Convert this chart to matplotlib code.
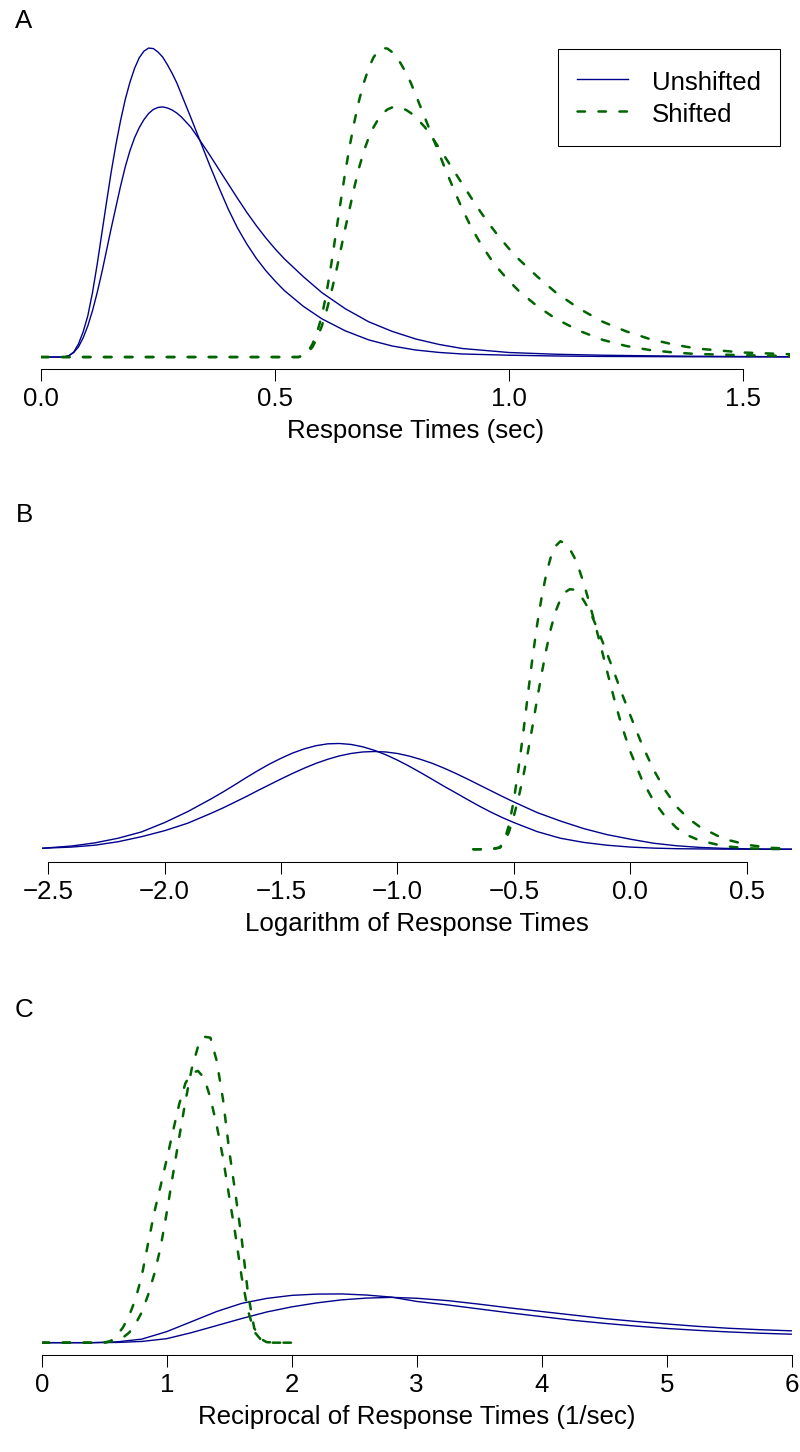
import numpy as np
import matplotlib
matplotlib.use("Agg")
import matplotlib.pyplot as plt
from matplotlib.lines import Line2D

plt.rcParams['font.family'] = ['Liberation Sans', 'DejaVu Sans']
plt.rcParams['lines.scale_dashes'] = False

BLUE = "#00008B"
GREEN = "#006400"
FS = 18.6

# ---------------- Panel A : response times (sec) ----------------
rt = np.array([0, 0.05, 0.06, 0.07, 0.08, 0.09, 0.10, 0.11, 0.12, 0.13, 0.14, 0.15, 0.16,
               0.17, 0.18, 0.19, 0.20, 0.21, 0.22, 0.23, 0.24, 0.25, 0.26, 0.27, 0.28, 0.29,
               0.30, 0.32, 0.34, 0.36, 0.38, 0.40, 0.42, 0.44, 0.46, 0.48, 0.50, 0.52, 0.56,
               0.60, 0.65, 0.70, 0.75, 0.80, 0.85, 0.90, 1.0, 1.1, 1.2, 1.3, 1.4, 1.5, 1.6])
dens_rt_1 = np.array([0, 0, 0.017, 0.058, 0.150, 0.289, 0.474, 0.740, 1.064, 1.422, 1.780,
                      2.127, 2.439, 2.717, 2.959, 3.156, 3.318, 3.439, 3.514, 3.549, 3.543,
                      3.503, 3.445, 3.358, 3.260, 3.150, 3.017, 2.751, 2.480, 2.208, 1.948,
                      1.699, 1.480, 1.295, 1.133, 0.994, 0.873, 0.763, 0.584, 0.439, 0.301,
                      0.197, 0.127, 0.081, 0.053, 0.035, 0.021, 0.012, 0.007, 0.005, 0.003,
                      0.002, 0.001])
dens_rt_2 = np.array([0, 0, 0.017, 0.052, 0.116, 0.220, 0.358, 0.532, 0.740, 0.971, 1.225,
                      1.480, 1.722, 1.965, 2.185, 2.370, 2.520, 2.636, 2.728, 2.798, 2.844,
                      2.867, 2.873, 2.861, 2.838, 2.803, 2.757, 2.641, 2.485, 2.324, 2.156,
                      1.988, 1.821, 1.659, 1.509, 1.370, 1.243, 1.127, 0.925, 0.740, 0.555,
                      0.405, 0.295, 0.208, 0.145, 0.098, 0.052, 0.032, 0.021, 0.014, 0.009,
                      0.006, 0.004])
shift = 0.5
ticks_a = [0.0, 0.5, 1.0, 1.5]
labels_a = ["0.0", "0.5", "1.0", "1.5"]

# ---------------- Panel B : log response times ----------------
log_rt = np.array([-2.526, -2.4, -2.3, -2.2, -2.1, -2.0, -1.9, -1.80, -1.75, -1.70, -1.65,
                   -1.60, -1.55, -1.50, -1.45, -1.40, -1.35, -1.30, -1.25, -1.20, -1.15, -1.10,
                   -1.05, -1.00, -0.95, -0.90, -0.85, -0.80, -0.75, -0.70, -0.65, -0.60, -0.55,
                   -0.50, -0.4, -0.3, -0.2, -0.1, 0.0, 0.1, 0.2, 0.3, 0.4, 0.5, 0.6, 0.693])
dens_log_1 = np.array([0.0087, 0.028, 0.055, 0.095, 0.149, 0.230, 0.325, 0.434, 0.492, 0.553,
                       0.616, 0.676, 0.733, 0.783, 0.828, 0.864, 0.891, 0.907, 0.910, 0.902,
                       0.882, 0.852, 0.813, 0.767, 0.715, 0.659, 0.601, 0.542, 0.486, 0.429,
                       0.373, 0.321, 0.273, 0.230, 0.152, 0.095, 0.059, 0.035, 0.019, 0.010,
                       0.005, 0.003, 0.0013, 0.0006, 0.0003, 0.0002])
dens_log_2 = np.array([0.0087, 0.019, 0.035, 0.065, 0.108, 0.160, 0.225, 0.310, 0.355, 0.404,
                       0.453, 0.505, 0.555, 0.605, 0.653, 0.698, 0.739, 0.774, 0.803, 0.824,
                       0.837, 0.841, 0.837, 0.824, 0.802, 0.773, 0.739, 0.698, 0.653, 0.605,
                       0.555, 0.505, 0.455, 0.407, 0.316, 0.243, 0.178, 0.126, 0.087, 0.052,
                       0.030, 0.016, 0.008, 0.004, 0.0017, 0.0009])
log_rt_shift = np.array([-0.674, -0.60, -0.56, -0.54, -0.52, -0.50, -0.48, -0.46, -0.44, -0.42,
                         -0.40, -0.38, -0.36, -0.34, -0.32, -0.30, -0.28, -0.26, -0.24, -0.22,
                         -0.20, -0.18, -0.16, -0.14, -0.12, -0.10, -0.07, -0.04, 0.0, 0.05,
                         0.1, 0.15, 0.2, 0.25, 0.3, 0.4, 0.5, 0.6, 0.693])
dens_log_shift_1 = np.array([0, 0, 0.017, 0.078, 0.217, 0.425, 0.694, 0.997, 1.327, 1.647,
                             1.933, 2.176, 2.376, 2.523, 2.610, 2.650, 2.631, 2.584, 2.510, 2.410,
                             2.289, 2.150, 2.003, 1.851, 1.695, 1.535, 1.301, 1.084, 0.841, 0.598,
                             0.416, 0.282, 0.182, 0.117, 0.074, 0.028, 0.0087, 0.0026, 0.0009])
dens_log_shift_2 = np.array([0, 0, 0.013, 0.061, 0.156, 0.286, 0.442, 0.624, 0.832, 1.058,
                             1.292, 1.517, 1.725, 1.907, 2.050, 2.150, 2.211, 2.237, 2.233, 2.198,
                             2.141, 2.072, 1.985, 1.890, 1.790, 1.686, 1.526, 1.361, 1.153, 0.902,
                             0.685, 0.507, 0.364, 0.264, 0.191, 0.091, 0.039, 0.013, 0.0043])
ticks_b = [-2.5, -2.0, -1.5, -1.0, -0.5, 0.0, 0.5]
labels_b = ["\u22122.5", "\u22122.0", "\u22121.5", "\u22121.0", "\u22120.5", "0.0", "0.5"]

# ---------------- Panel C : reciprocal response times ----------------
recip = np.array([0, 0.4, 0.6, 0.8, 1.0, 1.2, 1.4, 1.6, 1.8, 2.0, 2.2, 2.4, 2.6, 2.8, 3.0,
                  3.25, 3.5, 3.75, 4.0, 4.25, 4.5, 4.75, 5.0, 5.25, 5.5, 5.75, 6.0])
dens_recip_1 = np.array([0, 0, 0.0013, 0.0076, 0.025, 0.063, 0.107, 0.151, 0.192, 0.224, 0.249,
                         0.268, 0.279, 0.2835, 0.278, 0.263, 0.241, 0.217, 0.195, 0.173, 0.151,
                         0.133, 0.117, 0.102, 0.090, 0.081, 0.074])
dens_recip_2 = np.array([0, 0, 0.005, 0.022, 0.069, 0.132, 0.195, 0.246, 0.277, 0.296, 0.304,
                         0.305, 0.298, 0.285, 0.258, 0.236, 0.211, 0.186, 0.163, 0.140, 0.121,
                         0.104, 0.089, 0.077, 0.067, 0.059, 0.053])
recip_shift = np.array([0, 0.45, 0.5, 0.55, 0.6, 0.65, 0.7, 0.75, 0.8, 0.85, 0.9, 0.95, 1.0,
                        1.05, 1.1, 1.15, 1.2, 1.25, 1.3, 1.35, 1.4, 1.45, 1.5, 1.55, 1.6, 1.65,
                        1.7, 1.75, 1.8, 1.9, 2.0])
dens_recip_shift_1 = np.array([0, 0, 0.0019, 0.0063, 0.016, 0.032, 0.063, 0.117, 0.189, 0.296,
                               0.428, 0.592, 0.813, 1.052, 1.285, 1.512, 1.714, 1.852, 1.915,
                               1.909, 1.764, 1.525, 1.203, 0.932, 0.649, 0.309, 0.091, 0.025,
                               0.003, 0, 0])
dens_recip_shift_2 = np.array([0, 0, 0, 0.0095, 0.044, 0.095, 0.170, 0.271, 0.416, 0.617, 0.813,
                               0.977, 1.147, 1.323, 1.493, 1.625, 1.688, 1.701, 1.657, 1.531,
                               1.361, 1.159, 0.914, 0.674, 0.410, 0.202, 0.069, 0.022, 0, 0, 0])
ticks_c = [0, 1, 2, 3, 4, 5, 6]
labels_c = ["0", "1", "2", "3", "4", "5", "6"]

# ---------------- figure ----------------
W, H = 800, 1452
fig = plt.figure(figsize=(W / 100, H / 100), dpi=100)


def px_axes(left, right, top, bottom):
    return fig.add_axes([left / W, 1 - bottom / H, (right - left) / W, (bottom - top) / H])


def draw_blue(ax, x, y):
    ax.plot(x, y, color=BLUE, lw=1.0, solid_capstyle="round", solid_joinstyle="round")


def draw_green(ax, x, y):
    ax.plot(x, y, color=GREEN, lw=1.8, dashes=(5.4, 9.7), dash_capstyle="round",
            dash_joinstyle="round")


def finish(ax, xs, ys, ticks, labels, xlabel):
    ax.set_xlim(min(np.min(x) for x in xs), max(np.max(x) for x in xs))
    lo = min(np.min(y) for y in ys)
    hi = max(np.max(y) for y in ys)
    pad = 0.04 * (hi - lo)
    ax.set_ylim(lo - pad, hi + pad)
    for s in ["top", "right", "left"]:
        ax.spines[s].set_visible(False)
    ax.spines["bottom"].set_bounds(ticks[0], ticks[-1])
    ax.spines["bottom"].set_linewidth(0.75)
    ax.set_xticks(ticks)
    ax.set_xticklabels(labels)
    ax.set_yticks([])
    ax.tick_params(axis="x", length=8.6, width=0.75, pad=4.3, labelsize=FS, direction="out")
    ax.set_xlabel(xlabel, fontsize=FS, labelpad=5.8)
    ax.patch.set_alpha(0)


# Panel A
axA = px_axes(41, 790, 35.7, 369.4)
xa_max = rt.max()
xs_shift = np.concatenate([[0.0], rt + shift])
keep = xs_shift <= xa_max + 1e-9
gA1 = np.concatenate([[0.0], dens_rt_1])[keep]
gA2 = np.concatenate([[0.0], dens_rt_2])[keep]
xgA = xs_shift[keep]
draw_blue(axA, rt, dens_rt_1)
draw_blue(axA, rt, dens_rt_2)
draw_green(axA, xgA, gA1)
draw_green(axA, xgA, gA2)
finish(axA, [rt, xgA], [dens_rt_1, dens_rt_2, gA1, gA2], ticks_a, labels_a,
       "Response Times (sec)")

handles = [Line2D([], [], color=BLUE, lw=1.0),
           Line2D([], [], color=GREEN, lw=1.8, dashes=(5.4, 9.7), dash_capstyle="round")]
leg = axA.legend(handles, ["Unshifted", "Shifted"], loc="upper right",
                 bbox_to_anchor=(780 / W, 1 - 49 / H), bbox_transform=fig.transFigure,
                 frameon=True, fancybox=False, edgecolor="black", framealpha=1,
                 borderpad=0.75, handlelength=1.94, handletextpad=0.93, handleheight=1.17,
                 labelspacing=0.2, borderaxespad=0, fontsize=FS)
leg.get_frame().set_linewidth(0.75)

# Panel B
axB = px_axes(42.2, 791.6, 528.9, 861.6)
draw_blue(axB, log_rt, dens_log_1)
draw_blue(axB, log_rt, dens_log_2)
draw_green(axB, log_rt_shift, dens_log_shift_1)
draw_green(axB, log_rt_shift, dens_log_shift_2)
finish(axB, [log_rt, log_rt_shift],
       [dens_log_1, dens_log_2, dens_log_shift_1, dens_log_shift_2],
       ticks_b, labels_b, "Logarithm of Response Times")

# Panel C
axC = px_axes(41.7, 791.7, 1024.5, 1354.9)
draw_blue(axC, recip, dens_recip_1)
draw_blue(axC, recip, dens_recip_2)
draw_green(axC, recip_shift, dens_recip_shift_1)
draw_green(axC, recip_shift, dens_recip_shift_2)
finish(axC, [recip, recip_shift],
       [dens_recip_1, dens_recip_2, dens_recip_shift_1, dens_recip_shift_2],
       ticks_c, labels_c, "Reciprocal of Response Times (1/sec)")

# panel letters
for letter, ybase in [("A", 28.3), ("B", 521.5), ("C", 1017.1)]:
    fig.text(24 / W, 1 - ybase / H, letter, ha="center", va="baseline", fontsize=FS)

fig.savefig("out.png", dpi=100)
